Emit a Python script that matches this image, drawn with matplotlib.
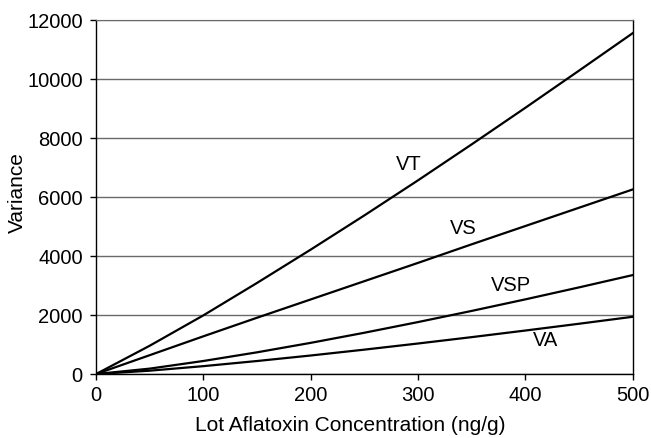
import matplotlib.pyplot as plt

# lot concentration (ng/g) and variance
conc = [0, 50, 100, 150, 200, 250, 300, 350, 400, 450, 500]
vt = [0, 960, 1990, 3090, 4220, 5380, 6570, 7790, 9030, 10290, 11560]
vs = [0, 640, 1280, 1910, 2530, 3150, 3770, 4400, 5020, 5640, 6260]
vsp = [0, 184, 443, 737, 1058, 1401, 1763, 2141, 2533, 2939, 3356]
va = [0, 114, 268, 442, 629, 828, 1036, 1252, 1476, 1706, 1942]

curves = [("VT", vt, 291, 7090), ("VS", vs, 342, 4940),
          ("VSP", vsp, 387, 2990), ("VA", va, 419, 1130)]


def main():
    plt.rcParams['font.family'] = ['Liberation Sans', 'DejaVu Sans']
    fig = plt.figure(figsize=(6.51, 4.38), dpi=100)
    ax = fig.add_axes([0.1475, 0.146, 0.8245, 0.808])

    for name, vals, lx, ly in curves:
        ax.plot(conc, vals, color="black", linewidth=1.6, zorder=3)
        ax.text(lx, ly, name, fontsize=14.5, ha="center", va="center")

    ax.set_xlim(0, 500)
    ax.set_ylim(0, 12000)
    ax.set_xticks(range(0, 501, 100))
    ax.set_yticks(range(0, 12001, 2000))
    ax.yaxis.grid(True, color="#6a6a6a", linewidth=1.0)
    ax.set_axisbelow(True)
    for s in ["left", "bottom", "right"]:
        ax.spines[s].set_color("black")
        ax.spines[s].set_linewidth(1.0)
    ax.spines["top"].set_color("#6a6a6a")
    ax.tick_params(labelsize=14.5, length=4.5, width=1, direction="out")
    ax.tick_params(axis="y", pad=5)
    ax.tick_params(axis="x", pad=4)

    ax.set_xlabel("Lot Aflatoxin Concentration (ng/g)", fontsize=15)
    ax.set_ylabel("Variance", fontsize=15)
    ax.xaxis.set_label_coords(0.474, -0.118)
    ax.yaxis.set_label_coords(-0.129, 0.514)

    fig.savefig("out.png", dpi=100)


if __name__ == "__main__":
    main()
